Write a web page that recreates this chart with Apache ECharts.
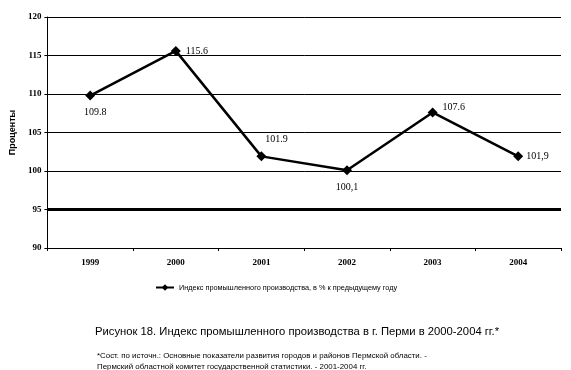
<!DOCTYPE html>
<html>
<head>
<meta charset="utf-8">
<script src="https://cdn.jsdelivr.net/npm/echarts@6/dist/echarts.min.js"></script>
<style>
  html, body { margin: 0; padding: 0; background: #fff; }
  #chart { width: 571px; height: 370px; }
</style>
</head>
<body>
<div id="chart"></div>
<script>
// годы и значения индекса
const years = ['1999', '2000', '2001', '2002', '2003', '2004'];
const values = [109.8, 115.6, 101.9, 100.1, 107.6, 101.9];
const valueLabels = ['109.8', '115.6', '101.9', '100,1', '107.6', '101,9'];
const yTicks = [90, 95, 100, 105, 110, 115, 120];
const seriesName = 'Индекс промышленного производства, в % к предыдущему году';

// положение подписей у точек
const labelPos = [
  { position: 'bottom', offset: [5, 2] },
  { position: 'right', offset: [0, 0] },
  { position: 'top', offset: [15, -2] },
  { position: 'bottom', offset: [0, 2] },
  { position: 'right', offset: [0, -5] },
  { position: 'right', offset: [-2, 0] }
];

const serif = '"Liberation Serif", "DejaVu Serif", serif';
const sans = '"Liberation Sans", Arial, sans-serif';

const option = {
  animation: false,
  backgroundColor: '#fff',
  title: [
    {
      text: 'Рисунок 18. Индекс промышленного производства в г. Перми в 2000-2004 гг.*',
      left: 90, top: 321,
      textStyle: { fontFamily: sans, fontSize: 11.25, fontWeight: 'normal', color: '#000' }
    },
    {
      text: '*Сост. по источн.: Основные показатели развития городов и районов Пермской области. -\nПермский областной комитет государственной статистики. - 2001-2004 гг.',
      left: 92, top: 346,
      textStyle: { fontFamily: sans, fontSize: 7.9, fontWeight: 'normal', color: '#000', lineHeight: 10.5 }
    }
  ],
  legend: {
    data: [seriesName],
    top: 279,
    left: 150,
    itemWidth: 18,
    itemHeight: 8,
    itemGap: 4,
    textStyle: { fontFamily: sans, fontSize: 7.3, color: '#000' }
  },
  grid: { left: 47, right: 10, top: 17, bottom: 122 },
  xAxis: {
    type: 'category',
    data: years,
    boundaryGap: true,
    axisLine: { lineStyle: { color: '#000', width: 1 } },
    axisTick: { show: true, length: 3, lineStyle: { color: '#000' } },
    axisLabel: { fontFamily: serif, fontSize: 9, fontWeight: 'bold', color: '#000', margin: 10 }
  },
  yAxis: {
    type: 'value',
    min: yTicks[0],
    max: yTicks[yTicks.length - 1],
    interval: 5,
    name: 'Проценты',
    nameLocation: 'middle',
    nameGap: 26,
    nameTextStyle: { fontFamily: sans, fontSize: 9, fontWeight: 'bold', color: '#000' },
    axisLine: { show: true, lineStyle: { color: '#000', width: 1 } },
    axisTick: { show: true, length: 3, lineStyle: { color: '#000' } },
    axisLabel: { fontFamily: serif, fontSize: 9, fontWeight: 'bold', color: '#000', margin: 6 },
    splitLine: { show: true, lineStyle: { color: '#000', width: 1 } }
  },
  series: [
    {
      name: seriesName,
      type: 'line',
      symbol: 'diamond',
      symbolSize: 10,
      lineStyle: { color: '#000', width: 2.5 },
      itemStyle: { color: '#000' },
      label: {
        show: true,
        fontFamily: serif,
        fontSize: 10,
        color: '#000'
      },
      data: values.map((v, i) => ({
        value: v,
        label: Object.assign({ formatter: valueLabels[i] }, labelPos[i])
      })),
      markLine: {
        silent: true,
        symbol: 'none',
        label: { show: false },
        lineStyle: { color: '#000', width: 3, type: 'solid' },
        data: [{ yAxis: 95 }]
      }
    }
  ]
};

let chartDom = document.getElementById('chart');
let myChart = echarts.init(chartDom);
myChart.setOption(option);
</script>
</body>
</html>
